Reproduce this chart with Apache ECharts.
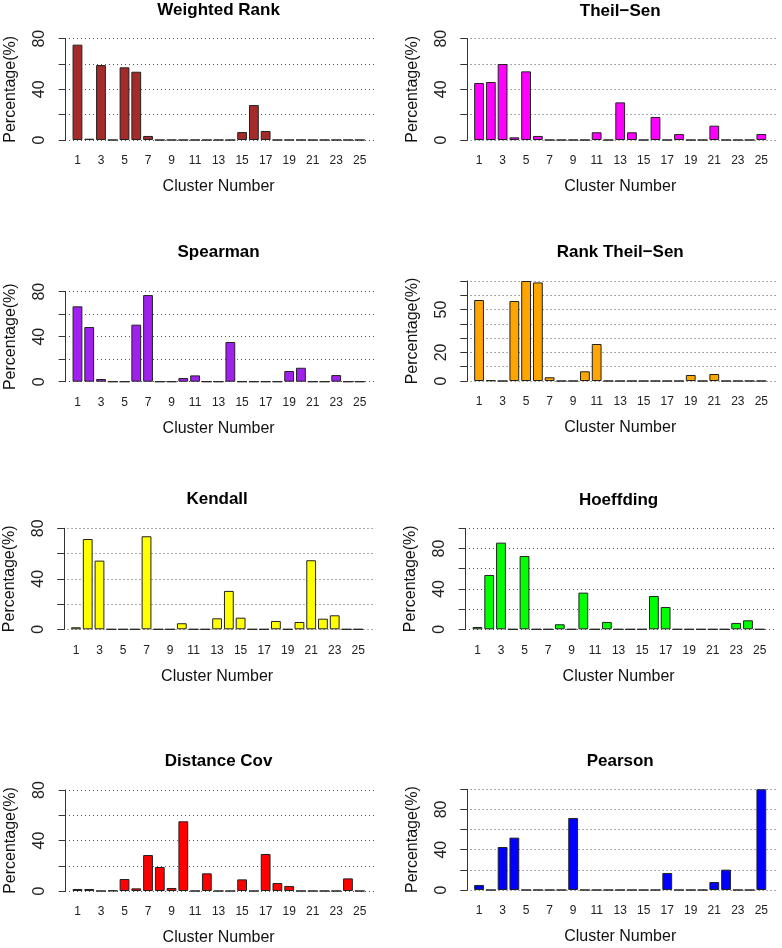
<!DOCTYPE html>
<html>
<head>
<meta charset="utf-8">
<script src="https://cdn.jsdelivr.net/npm/echarts@6/dist/echarts.min.js"></script>
<style>
html,body{margin:0;padding:0;background:#fff;}
#chart{width:782px;height:948px;}
</style>
</head>
<body>
<div id="chart"></div>
<script>
// ---- data ----
const clusters = [1,2,3,4,5,6,7,8,9,10,11,12,13,14,15,16,17,18,19,20,21,22,23,24,25];
const titles = ["Weighted Rank","Theil\u2212Sen","Spearman","Rank Theil\u2212Sen","Kendall","Hoeffding","Distance Cov","Pearson"];
const weightedRank = [75.3,1,59.2,0,57.4,53.9,3.2,0,0,0,0,0,0,0,6.3,27.6,7.1,0,0,0,0,0,0,0,0];
const theilSen = [45,45.8,60,2.1,54.2,3.2,0,0,0,0,6.1,0,29.7,6.1,0,18.2,0,4.7,0,0,11.3,0,0,0,4.7];
const spearman = [67,48.6,2.4,0,0,50.7,77,0,0,3.3,5.6,0,0,35.3,0,0,0,0,9.5,12.4,0,0,5.9,0,0];
const rankTheilSen = [56.7,0.5,0,56,70,69,2.6,0,0,6.8,25.9,0,0,0,0,0,0,0,4.2,0,4.9,0,0,0,0];
const kendall = [1.6,71.5,54.4,0,0,0,73.7,0,0,4.8,0,0,8.7,30.4,9.2,0,0,6.6,0,5.8,54.7,8.4,11.1,0,0];
const hoeffding = [2.3,53.8,85.8,0,72.6,0,0,5,0,36.3,0,7.3,0,0,0,33,22.1,0,0,0,0,0,6.3,8.9,0];
const distanceCov = [1.6,1.6,0,0.3,9.5,2.1,28.5,19,2.4,55.2,0,14,0,0,9.2,0,29.3,6.3,4,0,0,0,0,10,0];
const pearson = [5,0,42.7,52,0,0,0,0,71.5,0,0,0,0,0,0,0,16.9,0,0,0,7.9,20.2,0,0,100];
const xTickLabels = [1,3,5,7,9,11,13,15,17,19,21,23,25];
const yLabels80 = [0,40,80];
const yLabelsRank = [0,20,50];
const yLabels100 = [0,40,80];
const yMax = [80,80,80,70,80,100,80,100];
const yStep = [20,20,20,10,20,20,20,20];

// ---- styling / layout ----
const seriesValues = [weightedRank, theilSen, spearman, rankTheilSen, kendall, hoeffding, distanceCov, pearson];
const yLabelSets = [yLabels80, yLabels80, yLabels80, yLabelsRank, yLabels80, yLabels100, yLabels80, yLabels100];
const colors = ['#A52A2A','#FF00FF','#A020F0','#FFA500','#FFFF00','#00FF00','#FF0000','#0000FF'];
const boxes = [
  {left:61,   top:38.7,  h:101.3, ty:10.7},
  {left:462.6,top:38.7,  h:101.3, ty:11.7},
  {left:61,   top:291.7, h:90,    ty:252.7},
  {left:462.6,top:281,   h:100,   ty:253.3},
  {left:59.5, top:528.3, h:101,   ty:500},
  {left:461,  top:528.3, h:101,   ty:501},
  {left:61,   top:790,   h:101,   ty:761.7},
  {left:462.6,top:789.3, h:100.7, ty:762.3}
];
const W = 315.2;
const FONT = '"Liberation Sans", Arial, Helvetica, sans-serif';

const option = {
  animation:false,
  backgroundColor:'#fff',
  title:[], grid:[], xAxis:[], yAxis:[], series:[]
};

boxes.forEach((b,i)=>{
  option.title.push({
    text:titles[i], left:b.left + W/2, top:b.ty - 9, textAlign:'center', padding:0,
    textStyle:{fontFamily:FONT, fontSize:17, fontWeight:'bold', color:'#000'}
  });
  option.grid.push({left:b.left, top:b.top, width:W, height:b.h, containLabel:false});
  option.xAxis.push({
    type:'value', gridIndex:i, min:-0.4, max:26.4, interval:0.2,
    axisLine:{show:false}, axisTick:{show:false}, splitLine:{show:false},
    axisLabel:{
      fontFamily:FONT, fontSize:12, color:'#222', margin:15, showMinLabel:false, showMaxLabel:false,
      formatter:(v)=>{ const r=Math.round(v); return (Math.abs(v-r)<1e-6 && xTickLabels.includes(r)) ? String(r) : ''; }
    },
    name:'Cluster Number', nameLocation:'middle', nameGap:39,
    nameTextStyle:{fontFamily:FONT, fontSize:16, color:'#111'}
  });
  const labs = yLabelSets[i];
  option.yAxis.push({
    type:'value', gridIndex:i, min:0, max:yMax[i], interval:yStep[i],
    axisLine:{show:true, lineStyle:{color:'#333', width:1}},
    axisTick:{show:true, length:7, lineStyle:{color:'#333'}},
    splitLine:{show:true, lineStyle:{color:'#555', width:1, type:[1,3]}},
    axisLabel:{
      rotate:90, fontFamily:FONT, fontSize:16, color:'#222', margin:13,
      formatter:(v)=> labs.includes(Math.round(v)) && Math.abs(v-Math.round(v))<1e-6 ? String(Math.round(v)) : ''
    },
    name:'Percentage(%)', nameLocation:'middle', nameRotate:90, nameGap:42,
    nameTextStyle:{fontFamily:FONT, fontSize:16, color:'#111'}
  });
  option.series.push({
    type:'bar', xAxisIndex:i, yAxisIndex:i, barWidth:9.8,
    data: clusters.map((c,k)=>[c, seriesValues[i][k]]),
    itemStyle:{color:colors[i], borderColor:'#222', borderWidth:1},
    emphasis:{disabled:true}
  });
});

const chart = echarts.init(document.getElementById('chart'), null, {renderer:'canvas'});
chart.setOption(option);
</script>
</body>
</html>
